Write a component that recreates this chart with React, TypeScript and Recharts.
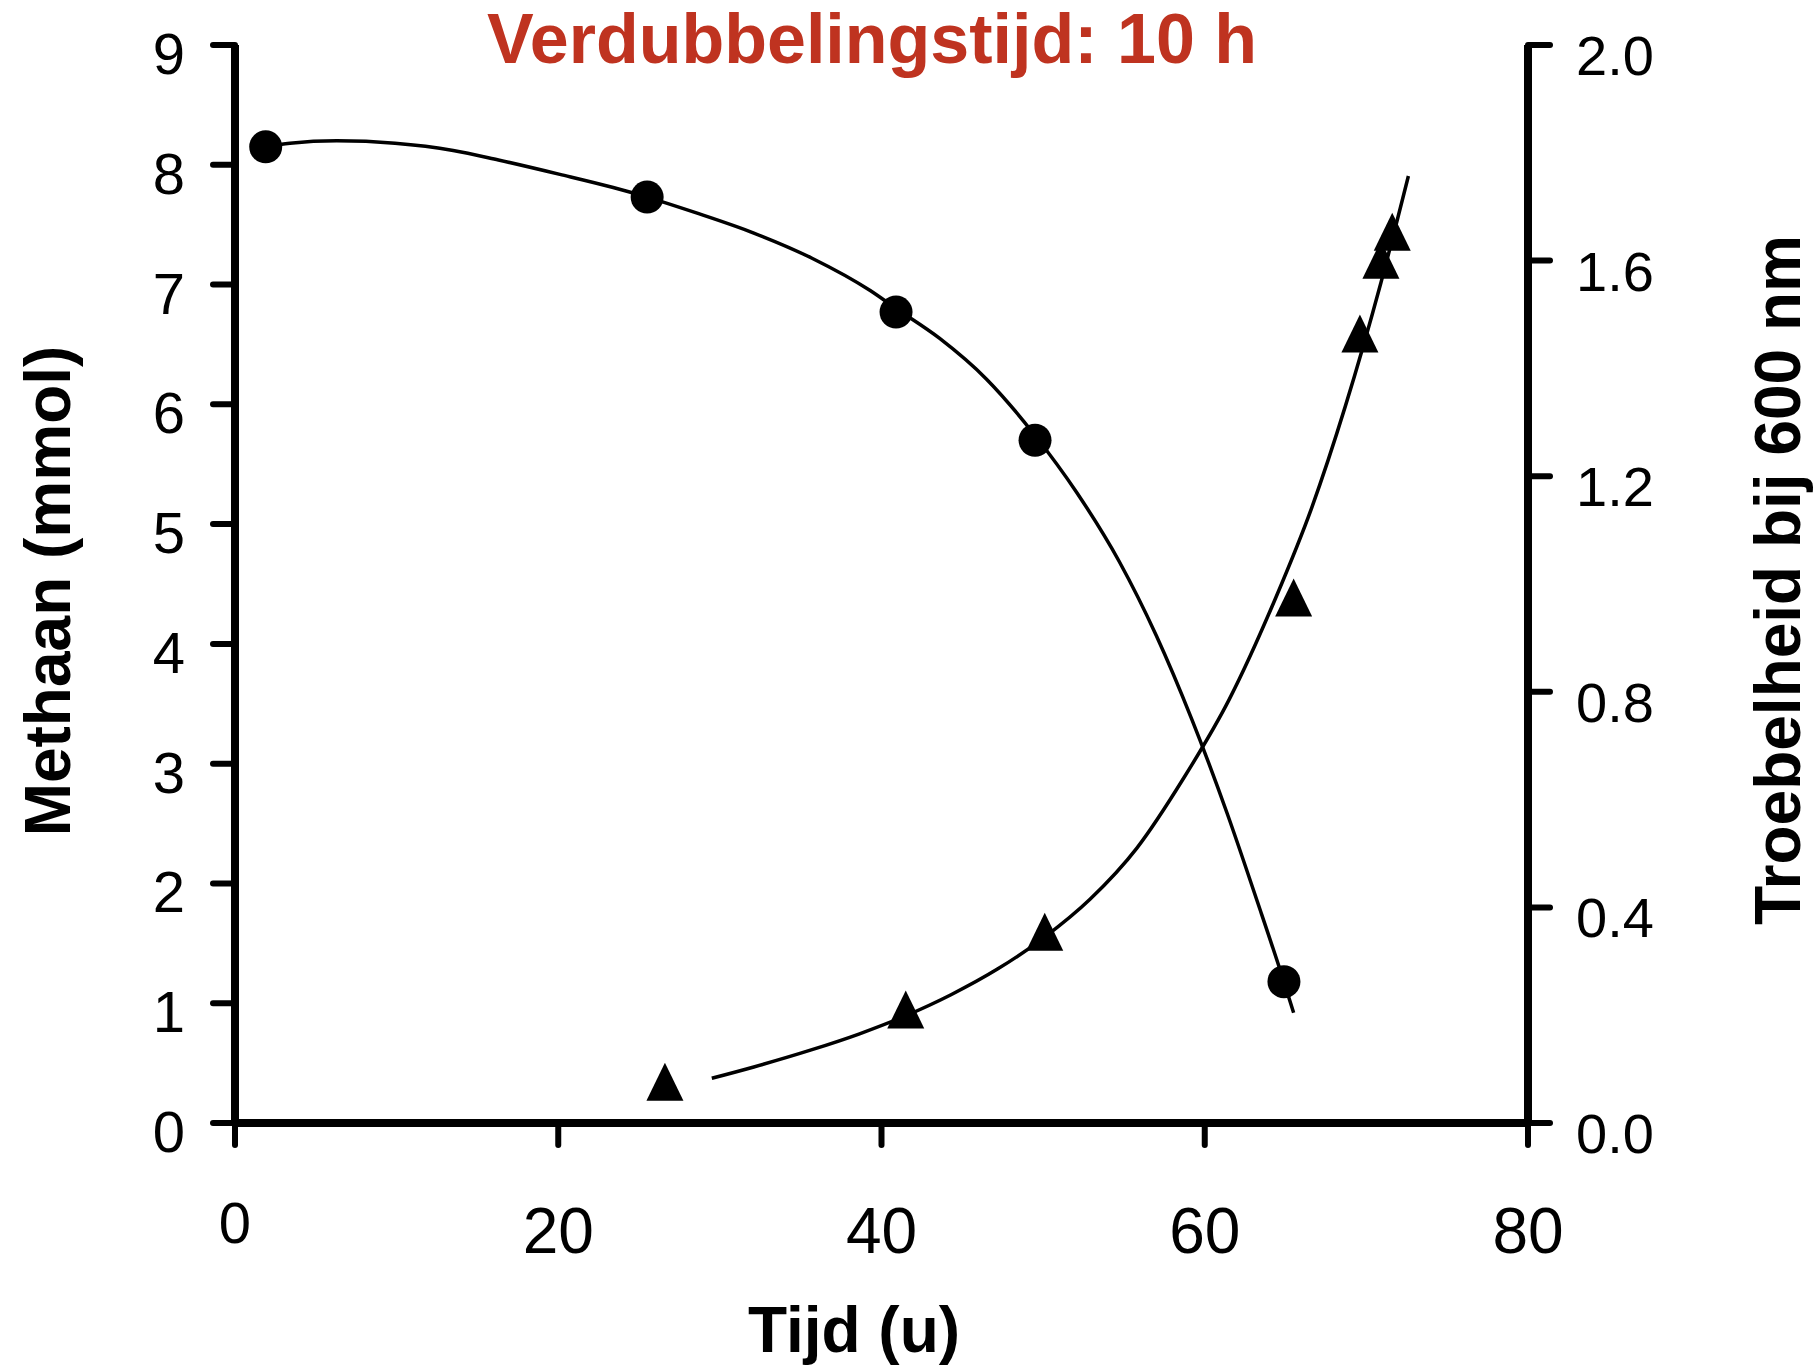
import { ComposedChart, Line, Scatter, XAxis, YAxis, Customized } from 'recharts';

const FONT = '"Liberation Sans", Arial, Helvetica, sans-serif';

// gemeten methaan (mmol), linker as
const methaanTijd = [1.9, 25.5, 40.9, 49.5, 64.9];
const methaanWaarde = [8.15, 7.73, 6.77, 5.7, 1.18];

// gemeten troebelheid bij 600 nm, rechter as
const troebelTijd = [26.6, 41.5, 50.1, 65.5, 69.6, 70.9, 71.6];
const troebelWaarde = [0.065, 0.199, 0.343, 0.963, 1.453, 1.59, 1.642];

const methaanLijnTijd = [1.9, 3.4, 6.3, 9.9, 13.5, 16.3, 20.1, 23.4, 25.5, 28.5, 32.1, 35.7, 39.3, 40.9, 43.6, 46.5, 49.5, 52.1, 54.7, 57.0, 59.2, 61.4, 63.3, 64.8, 65.5];
const methaanLijnWaarde = [8.15, 8.18, 8.2, 8.18, 8.12, 8.04, 7.92, 7.81, 7.73, 7.6, 7.43, 7.22, 6.95, 6.8, 6.55, 6.21, 5.74, 5.26, 4.69, 4.07, 3.37, 2.58, 1.83, 1.22, 0.92];

const troebelLijnTijd = [29.5, 32.1, 35.7, 38.6, 41.5, 44.3, 47.2, 50.1, 52.9, 55.8, 58.7, 61.5, 64.4, 66.6, 68.7, 70.9, 72.6];
const troebelLijnWaarde = [0.083, 0.104, 0.136, 0.165, 0.199, 0.238, 0.286, 0.345, 0.415, 0.51, 0.64, 0.785, 0.975, 1.14, 1.33, 1.559, 1.757];

const tijdTicks = [0, 20, 40, 60, 80];
const methaanTicks = [0, 1, 2, 3, 4, 5, 6, 7, 8, 9];
const troebelTicks = [0, 0.4, 0.8, 1.2, 1.6, 2.0];

const zip = (t: number[], v: number[]) => t.map((x, i) => ({ t: x, v: v[i] }));

const methaanPunten = zip(methaanTijd, methaanWaarde);
const troebelPunten = zip(troebelTijd, troebelWaarde);
const methaanLijn = zip(methaanLijnTijd, methaanLijnWaarde);
const troebelLijn = zip(troebelLijnTijd, troebelLijnWaarde);

const axisLine = { stroke: '#000', strokeWidth: 8 };
const tickLine = { stroke: '#000', strokeWidth: 6, strokeLinecap: 'round' as const };

const LeftTick = ({ x, y, payload }: any) => (
  <text x={x - 28} y={y + 29} textAnchor="end" fontSize={58} fontFamily={FONT} fill="#000">
    {payload.value}
  </text>
);

const RightTick = ({ x, y, payload }: any) => (
  <text x={x + 26} y={y + 30} textAnchor="start" fontSize={56} fontFamily={FONT} fill="#000">
    {Number(payload.value).toFixed(1)}
  </text>
);

const BottomTick = ({ x, y, payload }: any) => {
  const nul = payload.value === 0;
  return (
    <text x={x} y={y + (nul ? 98 : 108)} textAnchor="middle" fontSize={nul ? 58 : 64} fontFamily={FONT} fill="#000">
      {payload.value}
    </text>
  );
};

const Bolletje = (props: any) => <circle cx={props.cx} cy={props.cy} r={16.5} fill="#000" />;

const Driehoek = (props: any) => {
  const { cx, cy } = props;
  const h = 38;
  const w = 37;
  return (
    <path
      d={`M${cx},${cy - (2 * h) / 3} L${cx + w / 2},${cy + h / 3} L${cx - w / 2},${cy + h / 3} Z`}
      fill="#000"
    />
  );
};

const Opschriften = () => (
  <g fontFamily={FONT} fontWeight="bold">
    <text x={872} y={63} textAnchor="middle" fontSize={70} fill="#BF3320">
      Verdubbelingstijd: 10 h
    </text>
    <text x={854} y={1352} textAnchor="middle" fontSize={64} fill="#000">
      Tijd (u)
    </text>
    <text transform="translate(70,591) rotate(-90)" textAnchor="middle" fontSize={64} fill="#000">
      Methaan (mmol)
    </text>
    <text transform="translate(1800,580) rotate(-90)" textAnchor="middle" fontSize={64} fill="#000">
      Troebelheid bij 600 nm
    </text>
  </g>
);

export default function App() {
  return (
    <div style={{ position: 'absolute', left: 0, top: 0, background: '#fff' }}>
      <ComposedChart width={1818} height={1369} margin={{ top: 45, right: 0, bottom: 0, left: 0 }}>
        <XAxis
          dataKey="t"
          type="number"
          domain={[0, 80]}
          ticks={tijdTicks}
          interval={0}
          height={246}
          tickSize={22}
          tickMargin={0}
          axisLine={axisLine}
          tickLine={tickLine}
          tick={<BottomTick />}
        />
        <YAxis
          yAxisId="left"
          type="number"
          domain={[0, 9]}
          ticks={methaanTicks}
          interval={0}
          width={235}
          tickSize={22}
          tickMargin={0}
          axisLine={axisLine}
          tickLine={tickLine}
          tick={<LeftTick />}
        />
        <YAxis
          yAxisId="right"
          orientation="right"
          type="number"
          domain={[0, 2]}
          ticks={troebelTicks}
          interval={0}
          width={290}
          tickSize={22}
          tickMargin={0}
          axisLine={axisLine}
          tickLine={tickLine}
          tick={<RightTick />}
        />
        <Line
          yAxisId="left"
          data={methaanLijn}
          dataKey="v"
          type="monotone"
          stroke="#000"
          strokeWidth={3.5}
          dot={false}
          activeDot={false}
          isAnimationActive={false}
        />
        <Line
          yAxisId="right"
          data={troebelLijn}
          dataKey="v"
          type="monotone"
          stroke="#000"
          strokeWidth={3.5}
          dot={false}
          activeDot={false}
          isAnimationActive={false}
        />
        <Scatter yAxisId="left" data={methaanPunten} dataKey="v" shape={<Bolletje />} isAnimationActive={false} />
        <Scatter yAxisId="right" data={troebelPunten} dataKey="v" shape={<Driehoek />} isAnimationActive={false} />
        <Customized component={<Opschriften />} />
      </ComposedChart>
    </div>
  );
}
